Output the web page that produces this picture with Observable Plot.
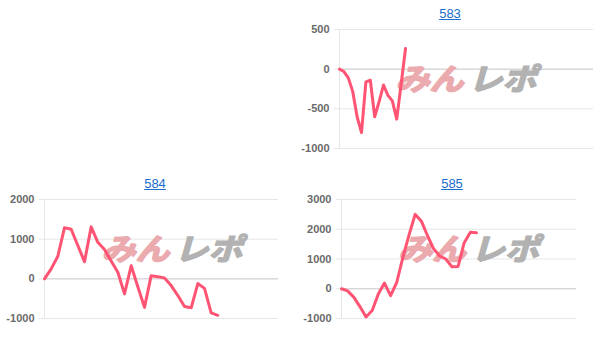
<!DOCTYPE html>
<html>
<head>
<meta charset="utf-8">
<script src="https://cdn.jsdelivr.net/npm/d3@7"></script>
<script src="https://cdn.jsdelivr.net/npm/@observablehq/plot@0.6"></script>
<style>
  body { margin: 0; background: #fff; }
  #root { position: relative; width: 607px; height: 349px; overflow: hidden; font-family: "Liberation Sans", Arial, sans-serif; }
  .panel { position: absolute; }
  .title { position: absolute; font-size: 13px; line-height: 15px; color: #1a6dcc; text-decoration: underline; transform: translateX(-50%); white-space: nowrap; }
</style>
</head>
<body>
<div id="root"></div>
<script>
// Machine numbers shown above each graph
const machines = ["583", "584", "585"];

// Running coin difference per sample point, one series per machine
const diff583 = [0, -30, -110, -280, -600, -800, -160, -140, -600, -410, -200, -330, -400, -630, -190, 260];
const diff584 = [0, 250, 570, 1290, 1250, 840, 430, 1310, 920, 740, 450, 165, -380, 330, -200, -720, 80, 55, 20, -170, -420, -700, -730, -120, -240, -860, -920];
const diff585 = [0, -70, -280, -600, -950, -730, -180, 190, -230, 210, 1050, 1800, 2500, 2280, 1790, 1350, 1100, 1000, 740, 750, 1550, 1900, 1880];

// Y-axis tick values per graph
const ticks583 = [-1000, -500, 0, 500];
const ticks584 = [-1000, 0, 1000, 2000];
const ticks585 = [-1000, 0, 1000, 2000, 3000];

const seriesList = [diff583, diff584, diff585];
const tickList = [ticks583, ticks584, ticks585];

// Placement of each small graph on the page
const layout = [
  { left: 300, top: 24,  titleX: 450, titleY: 6,   width: 300, height: 135, ml: 39, mr: 7,  xMax: 57.7, wmDx: -1 },
  { left: 0,   top: 194, titleX: 155, titleY: 176, width: 300, height: 135, ml: 44, mr: 22, xMax: 35.1, wmDx: 10 },
  { left: 300, top: 194, titleX: 452, titleY: 176, width: 300, height: 135, ml: 41, mr: 24, xMax: 38.3, wmDx: 9 }
];

const root = document.getElementById("root");

machines.forEach((name, i) => {
  const L = layout[i];
  const values = seriesList[i];
  const ticks = tickList[i];
  const rows = values.map((v, k) => ({ k, v }));

  const title = document.createElement("a");
  title.className = "title";
  title.href = "#";
  title.textContent = name;
  title.style.left = L.titleX + "px";
  title.style.top = L.titleY + "px";
  root.appendChild(title);

  const wmFont = "'Noto Sans CJK JP', sans-serif";

  const chart = Plot.plot({
    width: L.width,
    height: L.height,
    marginLeft: L.ml,
    marginRight: L.mr,
    marginTop: 5,
    marginBottom: 11,
    style: { fontFamily: "'Liberation Sans', Arial, sans-serif", fontSize: "11px", color: "#666", background: "transparent", overflow: "visible" },
    x: { domain: [0, L.xMax], axis: null },
    y: { domain: [d3.min(ticks), d3.max(ticks)], axis: null },
    marks: [
      Plot.gridY(ticks, { stroke: "#e6e6e6", strokeOpacity: 1 }),
      Plot.axisY(ticks, { label: null, tickSize: 5, stroke: "#e6e6e6", tickPadding: 5, fill: "#6a6a6a", fontWeight: "bold", tickFormat: d => String(d) }),
      Plot.ruleX([0], { stroke: "#e6e6e6" }),
      Plot.ruleY([0], { stroke: "#cfcfcf" }),
      // site watermark, drawn behind the line
      Plot.text(["みん"], { frameAnchor: "middle", dx: L.wmDx - 36, dy: -8.5, fontSize: 30, fontWeight: "bold", fontStyle: "italic", fill: "#eaaaae", stroke: "#eaaaae", strokeWidth: 1.6, fontFamily: wmFont }),
      Plot.text(["レポ"], { frameAnchor: "middle", dx: L.wmDx + 37, dy: -8.5, fontSize: 30, fontWeight: "bold", fontStyle: "italic", fill: "#b2b2b2", stroke: "#b2b2b2", strokeWidth: 1.6, fontFamily: wmFont }),
      Plot.line(rows, { x: "k", y: "v", stroke: "#ff5473", strokeWidth: 3 })
    ]
  });

  d3.select(chart).selectAll("text")
    .filter(function () { return this.textContent === "みん" || this.textContent === "レポ"; })
    .attr("textLength", 68)
    .attr("lengthAdjust", "spacingAndGlyphs");

  chart.classList.add("panel");
  chart.style.left = L.left + "px";
  chart.style.top = L.top + "px";
  root.appendChild(chart);
});
</script>
</body>
</html>
